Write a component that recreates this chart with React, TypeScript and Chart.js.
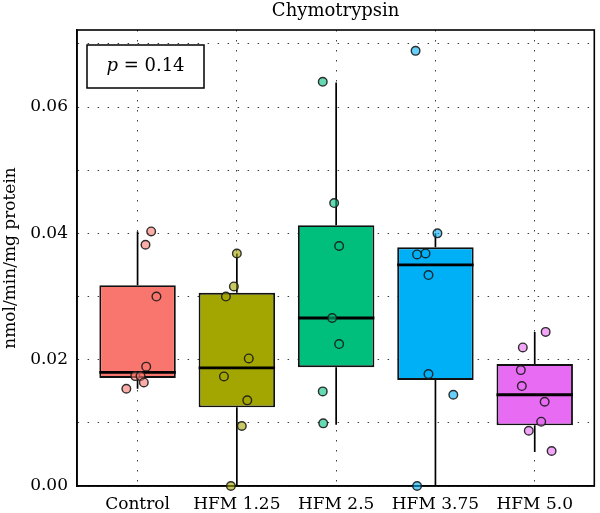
import React, { useEffect, useRef } from "react";
import { Chart, registerables } from "chart.js";

Chart.register(...registerables);

const categories = ["Control", "HFM 1.25", "HFM 2.5", "HFM 3.75", "HFM 5.0"];
const colors = ["#F8766D", "#A3A500", "#00BF7D", "#00B0F6", "#E76BF3"];
const pointFills = [
  "rgba(248,118,109,0.6)",
  "rgba(163,165,0,0.6)",
  "rgba(0,191,125,0.6)",
  "rgba(0,176,246,0.6)",
  "rgba(231,107,243,0.6)",
];

// box statistics
const whiskerLow = [0.0154, 0.0, 0.0097, 0.0, 0.0054];
const q1 = [0.0171, 0.01245, 0.0188, 0.0168, 0.0096];
const median = [0.018, 0.0187, 0.0266, 0.035, 0.01445];
const q3 = [0.0318, 0.0306, 0.0413, 0.0378, 0.0193];
const whiskerHigh = [0.0403, 0.0368, 0.0639, 0.04, 0.0244];

// individual observations and their horizontal jitter (category units)
const controlValues = [0.0403, 0.0382, 0.03, 0.0189, 0.0174, 0.0174, 0.0164, 0.0154];
const controlJitter = [0.137, 0.08, 0.19, 0.087, -0.023, 0.03, 0.063, -0.113];
const hfm125Values = [0.0368, 0.0316, 0.03, 0.0202, 0.01735, 0.01356, 0.0095, 0.0];
const hfm125Jitter = [0.0, -0.03, -0.11, 0.12, -0.13, 0.105, 0.05, -0.06];
const hfm25Values = [0.064, 0.0448, 0.038, 0.0266, 0.02247, 0.01498, 0.00992];
const hfm25Jitter = [-0.135, -0.02, 0.03, -0.04, 0.03, -0.135, -0.13];
const hfm375Values = [0.0689, 0.04, 0.03682, 0.03666, 0.0334, 0.01772, 0.01445, 0.0];
const hfm375Jitter = [-0.2, 0.02, -0.1, -0.185, -0.07, -0.07, 0.18, -0.185];
const hfm50Values = [0.0244, 0.02194, 0.01835, 0.01582, 0.01334, 0.01018, 0.00875, 0.00554];
const hfm50Jitter = [0.11, -0.12, -0.14, -0.13, 0.1, 0.065, -0.06, 0.17];

const groupValues = [controlValues, hfm125Values, hfm25Values, hfm375Values, hfm50Values];
const groupJitter = [controlJitter, hfm125Jitter, hfm25Jitter, hfm375Jitter, hfm50Jitter];

const yTickStep = 0.01;
const yMax = 0.0722;
const pText = "0.14";
const titleText = "Chymotrypsin";
const yTitle = "nmol/min/mg protein";

const FONT = '"DejaVu Serif", serif';
const BOX_HALF = 0.385;

const framePlugin = {
  id: "frame",
  beforeDatasetsDraw(chart: any) {
    const { ctx, chartArea } = chart;
    ctx.save();
    ctx.strokeStyle = "#000";
    ctx.lineWidth = 1.6;
    ctx.strokeRect(chartArea.left, chartArea.top, chartArea.right - chartArea.left, chartArea.bottom - chartArea.top);
    ctx.restore();
  },
};

const titlePlugin = {
  id: "areaTitle",
  afterDraw(chart: any) {
    const { ctx, chartArea } = chart;
    ctx.save();
    ctx.fillStyle = "#000";
    ctx.font = `18px ${FONT}`;
    ctx.textAlign = "center";
    ctx.textBaseline = "middle";
    ctx.fillText(titleText, (chartArea.left + chartArea.right) / 2, chartArea.top - 19);
    ctx.restore();
  },
};

const pBoxPlugin = {
  id: "pbox",
  afterDatasetsDraw(chart: any) {
    const { ctx, chartArea } = chart;
    const x = chartArea.left + 10;
    const y = chartArea.top + 15;
    const w = 117;
    const h = 43;
    ctx.save();
    ctx.fillStyle = "#fff";
    ctx.fillRect(x, y, w, h);
    ctx.strokeStyle = "#000";
    ctx.lineWidth = 1.5;
    ctx.strokeRect(x, y, w, h);
    ctx.fillStyle = "#000";
    ctx.textBaseline = "middle";
    ctx.textAlign = "left";
    ctx.font = `italic 18px ${FONT}`;
    const pW = ctx.measureText("p").width;
    ctx.font = `18px ${FONT}`;
    const rest = " = " + pText;
    const rW = ctx.measureText(rest).width;
    const tx = x + w / 2 - (pW + rW) / 2;
    const ty = y + h / 2;
    ctx.font = `italic 18px ${FONT}`;
    ctx.fillText("p", tx, ty);
    ctx.font = `18px ${FONT}`;
    ctx.fillText(rest, tx + pW, ty);
    ctx.restore();
  },
};

export default function App() {
  const ref = useRef<HTMLCanvasElement | null>(null);

  useEffect(() => {
    if (!ref.current) return;

    const whiskerData: any[] = [];
    const medianData: any[] = [];
    categories.forEach((_, i) => {
      whiskerData.push({ x: i, y: whiskerLow[i] }, { x: i, y: q1[i] }, { x: i, y: null });
      whiskerData.push({ x: i, y: q3[i] }, { x: i, y: whiskerHigh[i] }, { x: i, y: null });
      medianData.push({ x: i - BOX_HALF, y: median[i] }, { x: i + BOX_HALF, y: median[i] }, { x: i, y: null });
    });

    const pointSets = categories.map((c, i) => ({
      type: "scatter" as const,
      label: c + " points",
      data: groupValues[i].map((v, k) => ({ x: i + groupJitter[i][k], y: v })),
      backgroundColor: pointFills[i],
      borderColor: "rgba(25,25,25,0.9)",
      borderWidth: 1.4,
      pointRadius: 4.3,
      clip: false as any,
      order: 1,
    }));

    const chart = new Chart(ref.current, {
      type: "bar",
      data: {
        datasets: [
          {
            type: "line" as const,
            label: "whiskers",
            data: whiskerData,
            borderColor: "#000",
            borderWidth: 1.7,
            pointRadius: 0,
            spanGaps: false,
            fill: false,
            order: 4,
          } as any,
          {
            type: "bar" as const,
            label: "boxes",
            data: categories.map((_, i) => ({ x: i, y: [q1[i], q3[i]] })),
            backgroundColor: colors,
            borderColor: "#111",
            borderWidth: 1.9,
            borderSkipped: false,
            barPercentage: 1,
            categoryPercentage: 0.77,
            order: 3,
          } as any,
          {
            type: "line" as const,
            label: "medians",
            data: medianData,
            borderColor: "#000",
            borderWidth: 2.8,
            pointRadius: 0,
            spanGaps: false,
            fill: false,
            order: 2,
          } as any,
          ...pointSets,
        ],
      },
      options: {
        animation: false,
        responsive: false,
        maintainAspectRatio: false,
        layout: { padding: { left: 0, right: 2, top: 30, bottom: 0 } },
        plugins: {
          legend: { display: false },
          tooltip: { enabled: false },
          title: { display: false },
        },
        scales: {
          x: {
            type: "linear",
            min: -0.61,
            max: 4.6,
            offset: false,
            afterFit: (scale: any) => {
              scale.height = 27;
            },
            ticks: {
              stepSize: 1,
              includeBounds: false,
              autoSkip: false,
              maxRotation: 0,
              padding: 8,
              color: "#000",
              font: { family: FONT, size: 17 },
              callback: (v: any) => {
                const i = Math.round(Number(v));
                return Math.abs(Number(v) - i) < 1e-6 && categories[i] ? categories[i] : "";
              },
            },
            grid: {
              display: true,
              offset: false,
              drawTicks: false,
              color: "rgba(40,40,40,0.9)",
              lineWidth: 1,
            },
            border: { display: true, color: "#000", width: 1.6, dash: [1.5, 8.5] },
          },
          y: {
            type: "linear",
            min: 0,
            max: yMax,
            afterFit: (scale: any) => {
              scale.width = 77;
            },
            ticks: {
              stepSize: yTickStep,
              includeBounds: false,
              padding: 9,
              color: "#000",
              font: { family: FONT, size: 17 },
              callback: (v: any) => {
                const n = Math.round(Number(v) * 100);
                return n % 2 === 0 ? Number(v).toFixed(2) : "";
              },
            },
            grid: {
              display: true,
              drawTicks: false,
              color: "rgba(40,40,40,0.9)",
              lineWidth: 1,
            },
            border: { display: true, color: "#000", width: 1.6, dash: [1.5, 8.5] },
            title: {
              display: true,
              text: yTitle,
              color: "#000",
              font: { family: FONT, size: 17, lineHeight: 1.2 },
              padding: { top: 0, bottom: 0 },
            },
          },
        },
      } as any,
      plugins: [framePlugin, pBoxPlugin, titlePlugin],
    });

    return () => chart.destroy();
  }, []);

  return (
    <div style={{ position: "absolute", left: 0, top: 0, width: 600, height: 513, background: "#fff" }}>
      <canvas ref={ref} width={600} height={513} />
    </div>
  );
}
